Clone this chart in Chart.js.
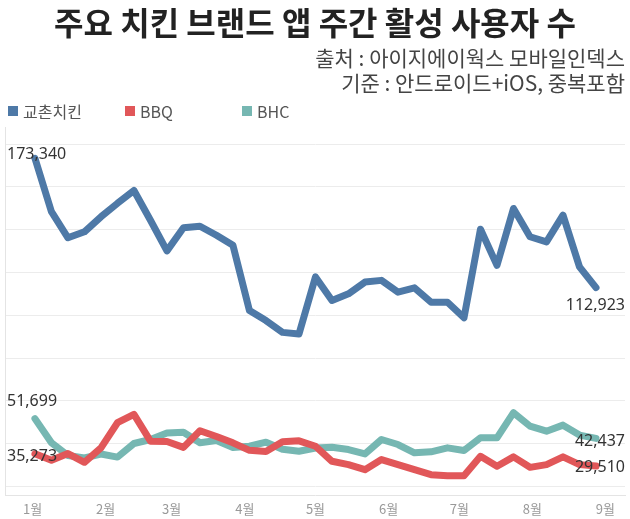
<!DOCTYPE html>
<html>
<head>
<meta charset="utf-8">
<script src="https://cdn.jsdelivr.net/npm/chart.js@4"></script>
<style>
  html, body { margin: 0; padding: 0; background: #fff; }
  #wrap { position: relative; width: 630px; height: 519px; }
  #legend {
    position: absolute; left: 8px; top: 99px; display: flex;
    font-family: "Noto Sans CJK KR", sans-serif; font-size: 16px; color: #555;
  }
  #legend .item { width: 117px; display: flex; align-items: center; }
  #legend .box { width: 10px; height: 10px; margin-right: 5px; }
</style>
</head>
<body>
<div id="wrap">
  <canvas id="chicken" width="630" height="519"></canvas>
  <div id="legend"></div>
</div>
<script>
// week starting day (days after 1 Jan)
const weekDays = [1, 8, 15, 22, 29, 36, 43, 50, 57, 64, 71, 78, 85, 92, 99, 106, 113, 120,
    127, 134, 141, 148, 155, 162, 169, 176, 183, 190, 197, 204, 211, 218, 225, 232, 239];

const kyochon = [173340, 148400, 136200, 139000, 146000, 152300, 158300, 144400, 130100,
    140900, 141600, 137400, 132700, 102200, 97500, 92000, 91200, 117900, 106900, 110000,
    115500, 116300, 110800, 112800, 106100, 106100, 98800, 140200, 123300, 149900, 136700,
    134300, 146800, 122600, 112923];

const bbq = [35273, 32210, 35360, 31280, 38040, 49780, 53680, 41140, 41000, 38270, 46020,
    43340, 40390, 36860, 36300, 40900, 41320, 38790, 31750, 30200, 27850, 32540, 30200,
    27850, 25500, 25030, 25030, 34090, 29400, 33810, 28930, 30200, 33810, 30200, 29510];

const bhc = [51699, 40390, 34420, 33340, 35130, 33720, 40060, 41930, 44990, 45320, 40390,
    41470, 38180, 38790, 40670, 37380, 36440, 37940, 38320, 37240, 35220, 41930, 39590,
    35690, 36160, 38040, 36770, 42730, 42730, 54470, 48180, 45830, 48650, 44000, 42437];

const monthDays = [0, 31, 59, 90, 120, 151, 181, 212, 243];
const monthLabels = ['1월', '2월', '3월', '4월', '5월', '6월', '7월', '8월', '9월'];
const gridValues = [20000, 40000, 60000, 80000, 100000, 120000, 140000, 160000, 180000];

const seriesNames = ['교촌치킨', 'BBQ', 'BHC'];
const seriesColors = ['#4E79A7', '#E15759', '#76B7B2'];

const toPoints = (vals) => vals.map((v, i) => ({x: weekDays[i], y: v}));

// html legend with fixed columns
const legendEl = document.getElementById('legend');
seriesNames.forEach((name, i) => {
    const item = document.createElement('div');
    item.className = 'item';
    item.innerHTML = '<span class="box" style="background:' + seriesColors[i] + '"></span>' + name;
    legendEl.appendChild(item);
});

// first / last value labels
const labelOffsets = [
    {first: -4, last: 18},
    {first: 3, last: 1},
    {first: -17, last: 3}
];

const endLabels = {
    id: 'endLabels',
    afterDatasetsDraw(chart) {
        const c = chart.ctx;
        const area = chart.chartArea;
        c.save();
        c.font = '16px "Noto Sans", sans-serif';
        c.fillStyle = '#333';
        c.textBaseline = 'middle';
        chart.data.datasets.forEach((ds, i) => {
            const pts = chart.getDatasetMeta(i).data;
            const first = pts[0];
            const last = pts[pts.length - 1];
            c.textAlign = 'left';
            c.fillText(ds.data[0].y.toLocaleString('en-US'), area.left + 2, first.y + labelOffsets[i].first);
            c.textAlign = 'right';
            c.fillText(ds.data[ds.data.length - 1].y.toLocaleString('en-US'), area.right, last.y + labelOffsets[i].last);
        });
        c.restore();
    }
};

const datasets = [kyochon, bbq, bhc].map((vals, i) => ({
    label: seriesNames[i],
    data: toPoints(vals),
    borderColor: seriesColors[i],
    backgroundColor: seriesColors[i],
    borderWidth: 7,
    borderJoinStyle: 'round',
    borderCapStyle: 'round',
    pointRadius: 0,
    tension: 0
}));

new Chart(document.getElementById('chicken'), {
    type: 'line',
    data: {datasets: datasets},
    options: {
        responsive: false,
        animation: false,
        layout: {padding: {left: 5, right: 5, bottom: 0}},
        plugins: {
            legend: {display: false},
            tooltip: {enabled: false},
            title: {
                display: true,
                text: '주요 치킨 브랜드 앱 주간 활성 사용자 수',
                color: '#222',
                font: {family: '"Noto Sans CJK KR", sans-serif', size: 32, weight: 'bold'},
                padding: {top: 4, bottom: 0}
            },
            subtitle: {
                display: true,
                text: ['출처 : 아이지에이웍스 모바일인덱스', '기준 : 안드로이드+iOS, 중복포함'],
                align: 'end',
                color: '#444',
                font: {family: '"Noto Sans CJK KR", sans-serif', size: 21},
                padding: {top: 3, bottom: 32}
            }
        },
        scales: {
            x: {
                type: 'linear',
                min: -11.7,
                max: 251.3,
                afterBuildTicks: (axis) => { axis.ticks = monthDays.map(v => ({value: v})); },
                afterFit: (axis) => { axis.height = 24; },
                ticks: {
                    autoSkip: false,
                    maxRotation: 0,
                    padding: 6,
                    color: '#999',
                    font: {family: '"Noto Sans CJK KR", sans-serif', size: 13},
                    callback: (v) => monthLabels[monthDays.indexOf(v)]
                },
                grid: {display: false, drawTicks: false},
                border: {display: true, color: '#e4e4e4'}
            },
            y: {
                min: 16000,
                max: 187600,
                afterBuildTicks: (axis) => { axis.ticks = gridValues.map(v => ({value: v})); },
                ticks: {display: false},
                grid: {color: '#ececec', drawTicks: false},
                border: {display: true, color: '#e4e4e4'}
            }
        }
    },
    plugins: [endLabels]
});
</script>
</body>
</html>
